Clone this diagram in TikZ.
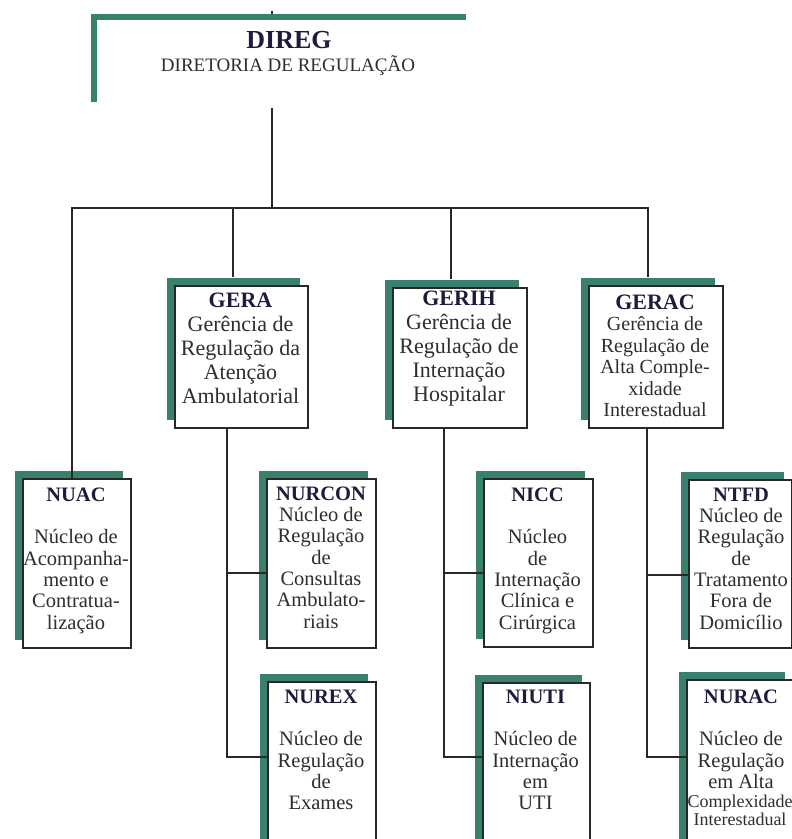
\documentclass[tikz,border=0pt]{standalone}
\usepackage{fontspec}
\setmainfont{Liberation Serif}
\usetikzlibrary{shadows}

\definecolor{orgteal}{RGB}{58,128,110}
\definecolor{orgline}{RGB}{40,40,40}
\definecolor{orgtitle}{RGB}{30,28,60}
\definecolor{orgtext}{RGB}{45,45,50}

\newcommand\orgttl[1]{\textbf{\color{orgtitle}#1}}

\tikzset{
  unitbox/.style={draw=orgline, line width=1.6pt, fill=white, inner sep=0pt,
    anchor=north west,
    general shadow={fill=orgteal, shadow xshift=-8pt, shadow yshift=8pt}},
  conn/.style={draw=orgline, line width=2.4pt},
  upper/.style={inner sep=0pt, anchor=north, align=center, text=orgtext,
    font=\fontsize{22}{24}\selectfont},
  lower/.style={inner sep=0pt, anchor=north, align=center, text=orgtext,
    font=\fontsize{20.5}{21.3}\selectfont},
}

\begin{document}
\begin{tikzpicture}[x=1pt,y=-1pt]
\fill[white] (0,0) rectangle (792,839);
\useasboundingbox (0,0) rectangle (792,839);

% directorate header (borderless, teal offset backing)
\node[fill=white, inner sep=0pt, minimum width=375pt, minimum height=88pt,
      anchor=north west,
      general shadow={fill=orgteal, shadow xshift=-6pt, shadow yshift=6pt}]
      (direg) at (97,20) {};
\node[inner sep=0pt, anchor=base, text=orgtitle,
      font=\fontsize{26}{26}\selectfont\bfseries] (diregT) at (289,48) {DIREG};
\node[inner sep=0pt, anchor=base, text=orgtext,
      font=\fontsize{19}{19}\selectfont] (diregS) at (288,71) {DIRETORIA DE REGULAÇÃO};

% management boxes
\node[unitbox, minimum width=133pt, minimum height=142pt] (gera)  at (174,285) {};
\node[unitbox, minimum width=134pt, minimum height=140pt] (gerih) at (392,287) {};
\node[unitbox, minimum width=134pt, minimum height=142pt] (gerac) at (588,285) {};

% unit boxes
\node[unitbox, minimum width=108pt, minimum height=169pt] (nuac)   at (22,478)  {};
\node[unitbox, minimum width=109pt, minimum height=169pt] (nurcon) at (266,478) {};
\node[unitbox, minimum width=109pt, minimum height=168pt] (nicc)   at (483,478) {};
\node[unitbox, minimum width=103pt, minimum height=168pt] (ntfd)   at (688,479) {};
\node[unitbox, minimum width=108pt, minimum height=169pt] (nurex)  at (267,681) {};
\node[unitbox, minimum width=107pt, minimum height=169pt] (niuti)  at (482,682) {};
\node[unitbox, minimum width=106pt, minimum height=170pt] (nurac)  at (686,679) {};

% box texts
\node[upper] (geraT) at (240.5,292.6)
  {\orgttl{GERA}\\Gerência de\\Regulação da\\Atenção\\Ambulatorial};
\node[upper] (gerihT) at (459,290.6)
  {\orgttl{GERIH}\\Gerência de\\Regulação de\\Internação\\Hospitalar};
\node[upper, font=\fontsize{20}{21.5}\selectfont] (geracT) at (655,294.6)
  {{\fontsize{22}{21.5}\selectfont\orgttl{GERAC}}\\Gerência de\\Regulação de\\Alta Comple-\\xidade\\Interestadual};

\node[lower] (nuacT) at (76,487.6)
  {\orgttl{NUAC}\\[21.3pt]Núcleo de\\Acompanha-\\mento e\\Contratua-\\lização};
\node[lower] (nurconT) at (321,486.6)
  {\orgttl{NURCON}\\Núcleo de\\Regulação\\de\\Consultas\\Ambulato-\\riais};
\node[lower] (niccT) at (537.5,487.6)
  {\orgttl{NICC}\\[21.3pt]Núcleo\\de\\Internação\\Clínica e\\Cirúrgica};
\node[lower] (ntfdT) at (741,487.6)
  {\orgttl{NTFD}\\Núcleo de\\Regulação\\de\\Tratamento\\Fora de\\Domicílio};
\node[lower] (nurexT) at (321,689.6)
  {\orgttl{NUREX}\\[21.3pt]Núcleo de\\Regulação\\de\\Exames};
\node[lower] (niutiT) at (535.5,689.6)
  {\orgttl{NIUTI}\\[21.3pt]Núcleo de\\Internação\\em\\UTI};
\node[lower] (nuracT) at (741,689.6)
  {\orgttl{NURAC}\\[21.3pt]Núcleo de\\Regulação\\em Alta};
\node[lower, font=\fontsize{18}{18}\selectfont] (nuracS) at (740,795.3)
  {Complexidade\\Interestadual};

% connector junctions
\coordinate (stub) at (272,11);
\coordinate (j0) at (272,208);
\coordinate (dA) at (72,208);
\coordinate (dB) at (233,208);
\coordinate (dC) at (451,208);
\coordinate (dD) at (648,208);
\coordinate (tA1) at (227,573);
\coordinate (tA2) at (227,757);
\coordinate (tB1) at (444,573);
\coordinate (tB2) at (444,757);
\coordinate (tC1) at (647,575);
\coordinate (tC2) at (647,757);

% upper tree
\draw[conn] (stub) -- ([yshift=6pt]direg.north -| stub);
\draw[conn] (direg.south -| j0) -- (j0);
\draw[conn] (dA |- nuac.north) -- (dA) -- (dD) -- ([yshift=8pt]gerac.north -| dD);
\draw[conn] (dB) -- ([yshift=8pt]gera.north -| dB);
\draw[conn] (dC) -- ([yshift=8pt]gerih.north -| dC);

% lower trees
\draw[conn] (gera.south -| tA1) -- (tA2) -- (tA2 -| nurex.west);
\draw[conn] (tA1) -- (tA1 -| nurcon.west);
\draw[conn] (gerih.south -| tB1) -- (tB2) -- (tB2 -| niuti.west);
\draw[conn] (tB1) -- (tB1 -| nicc.west);
\draw[conn] (gerac.south -| tC1) -- (tC2) -- (tC2 -| nurac.west);
\draw[conn] (tC1) -- (tC1 -| ntfd.west);
\end{tikzpicture}
\end{document}
